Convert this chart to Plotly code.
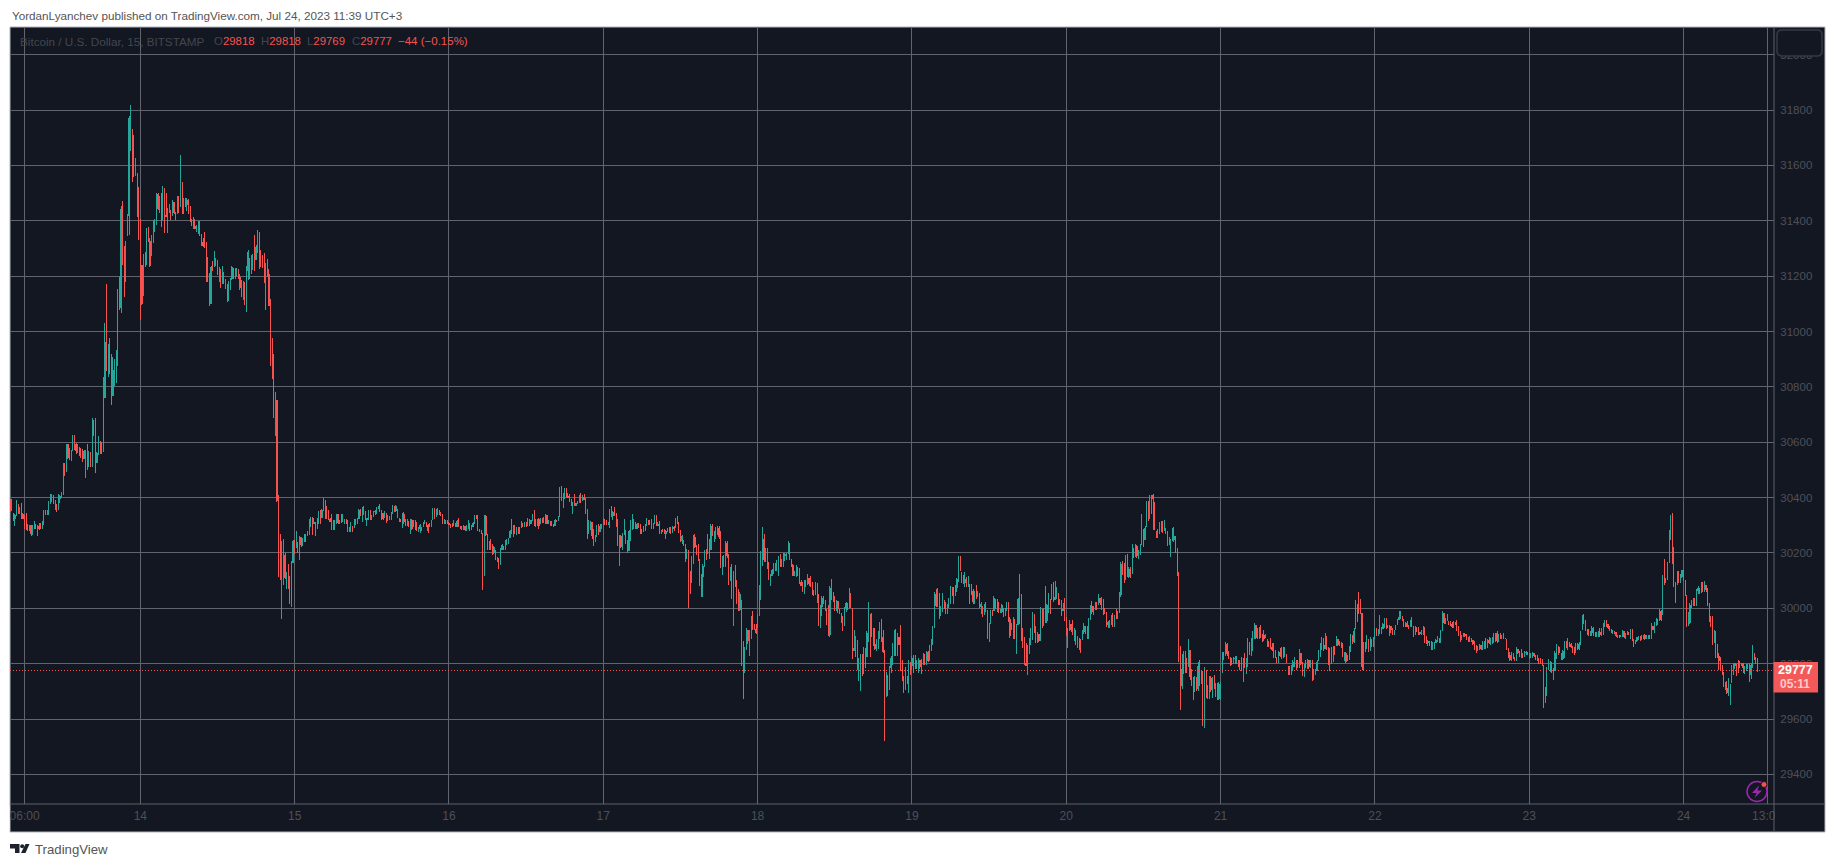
import pandas as pd
import plotly.graph_objects as go

WIDTH, HEIGHT = 1835, 867
PLOT_L, PLOT_R, PLOT_T, PLOT_B = 10, 1774, 27, 804

closes = [
30370,30358,30325,30335,30375,30350,30360,30340,30325,30300,
30285,30282,30298,30270,30285,30305,30290,30295,30290,30288,
30310,30352,30340,30354,30385,30405,30412,30385,30362,30352,
30395,30405,30415,30510,30480,30590,30545,30540,30570,30625,
30590,30570,30585,30555,30550,30535,30565,30570,30510,30540,
30515,30680,30625,30510,30560,30615,30565,30562,30760,30960,
30860,30880,30850,30770,30860,30880,30910,31130,31085,31440,
31245,31180,31310,31420,31770,31780,31700,31560,31620,31520,
31340,
31240,31100,31270,31240,31370,31325,31240,31340,31395,31400,
31495,31445,31480,31400,31510,31420,31415,31440,31450,31410,
31465,31430,31420,31485,31435,31500,31430,31480,31460,31475,
31430,31400,31385,31378,31372,31380,31395,31350,31320,31310,
31305,31240,31195,31100,31230,31222,31245,31262,31210,31225,
31170,31200,31175,31182,31115,31175,31190,31230,31195,31225,
31228,31195,31160,31130,31175,31105,31220,31285,31200,31270,
31275,31260,31305,31360,31290,31240,31232,31190,31240,31205,
31095,30880,30835,30700,30775,30390,30120,30105,30110,30190,
30110,30120,30075,30020,30165,30240,30200,30230,30205,30255,
30230,30250,30265,30245,30275,30320,30325,30290,30310,30305,
30295,30345,30320,30355,30395,30340,30330,30322,30315,30290,
30285,30312,30338,30310,30316,30312,30315,30320,30312,30282,
30290,30308,30280,30318,30320,30324,30352,30336,30360,30362,
30322,30325,30350,30322,30333,30348,30350,30362,30364,30352,
30345,30325,30345,30315,30320,30328,30344,30366,30352,30368,
30332,30316,30314,30340,30312,30300,30302,30296,30318,30290,
30312,30288,30285,30288,30298,30284,30305,30310,30300,30282,
30302,30312,30360,30328,30354,30358,30340,30340,30310,30318,
30312,30308,30302,30300,30298,30312,30295,30315,30296,30292,
30283,30296,30285,30295,30312,30284,30296,30308,30332,30326,
30285,30280,30274,30070,30330,30265,30218,30236,30215,30200,
30220,30180,30172,30145,30212,30228,30212,30240,30245,30250,
30278,30275,30295,30272,30288,30280,30288,30308,30295,30306,
30296,30322,30300,30316,30335,30305,30298,30320,30300,30322,
30312,30322,30335,30308,30312,30300,30302,30296,30318,30312,
30328,30430,30395,30412,30430,30405,30402,30388,30372,30378,
30372,30380,30383,30404,30386,30402,30392,30345,30270,30272,
30310,30262,30240,30260,30290,30270,30295,30302,30322,30310,
30305,30306,30350,30335,30345,30340,30300,30230,30258,30225,
30265,30316,30240,30205,30278,30312,30335,30295,30290,30304,
30300,30272,30270,30282,30300,30322,30303,30305,30290,30302,
30330,30300,30304,30272,30280,30278,30270,30278,30286,30276,
30272,30292,30290,30320,30310,30276,30245,30258,30240,30175,
30207,30100,30060,30180,30255,30225,30200,30178,30100,30115,
30150,30202,30180,30260,30185,30295,30268,30272,30285,30290,
30258,30155,30180,30186,30235,30190,30100,30140,30040,30125,
30085,30025,29995,30050,29800,29800,29850,29920,29885,29910,
29965,29930,29925,29912,29970,30075,30195,30250,30175,30210,
30150,30115,30120,30138,30160,30162,30168,30180,30155,30175,
30192,30195,30196,30236,30180,30155,30120,30128,30150,30130,
30095,30083,30065,30095,30098,30118,30090,30082,30052,30060,
30088,30025,29945,30005,30035,30020,29995,29950,29905,30070,
30035,30028,29995,30025,30000,29985,29955,29925,29998,30018,
30010,30062,30005,29830,29855,29895,29790,29800,29825,29765,
29850,29790,29910,30010,29970,29905,29870,29855,29880,29912,
29940,29895,29845,29640,29765,29690,29785,29820,29865,29915,
29835,29900,29870,29785,29750,29700,29780,29730,29805,29795,
29820,29790,29785,29795,29810,29790,29770,29832,29800,29840,
29812,29860,29880,29930,30050,30010,30060,29975,29980,30045,
30000,29985,30010,30030,30072,30050,30030,30075,30105,30180,
30140,30095,30092,30105,30080,30085,30080,30060,30025,30055,
30040,30046,30005,30015,29975,30008,29992,29895,29940,29985,
29978,30035,30028,29992,29986,29990,30010,29975,29992,30018,
29960,29900,29928,29962,29900,29935,30030,29950,29890,29862,
29800,29795,29860,29885,29920,29975,29915,29878,29905,29885,
30000,29938,29990,29955,30010,30050,29985,30080,30030,30040,
30070,30018,30028,29980,29995,29960,29905,29920,29950,29925,
29910,29920,29875,29895,29885,29848,29915,29935,29910,29930,
29955,30005,29990,29982,30018,29998,30045,30020,30030,29985,
29980,29940,29950,29955,29970,29940,29968,29965,29985,30050,
30160,30125,30100,30185,30115,30140,30115,30225,30185,30225,
30190,30205,30225,30330,30240,30290,30380,30325,30405,30408,
30395,30290,30255,30260,30275,30310,30280,30285,30285,30232,
30240,30245,30250,30260,30205,30125,29815,29720,29780,29835,
29840,29780,29880,29755,29730,29685,29745,29710,29790,29735,
29770,29640,29750,29690,29685,29745,29705,29745,29715,29720,
29675,29725,29730,29830,29820,29870,29835,29822,29815,29808,
29818,29820,29825,29805,29785,29780,29815,29790,29812,29880,
29838,29885,29912,29938,29895,29892,29925,29900,29900,29890,
29892,29880,29870,29860,29852,29825,29822,29815,29840,29830,
29850,29828,29835,29805,29765,29762,29790,29805,29815,29785,
29800,29845,29800,29765,29790,29785,29810,29790,29800,29745,
29772,29775,29805,29840,29865,29885,29855,29865,29850,29800,
29850,29805,29855,29840,29890,29868,29875,29860,29830,29835,
29808,29825,29855,29895,29880,29915,30020,30005,29990,29985,
29790,29870,29850,29895,29875,29885,29870,29890,29920,29905,
29910,29915,29925,29940,29955,29932,29936,29935,29925,29910,
29916,29932,29955,29965,29970,29958,29938,29945,29935,29930,
29950,29938,29905,29928,29920,29910,29912,29918,29930,29885,
29875,29880,29870,29855,29858,29870,29885,29895,29880,29915,
29980,29950,29958,29960,29945,29940,29935,29945,29940,29925,
29908,29890,29900,29905,29902,29890,29885,29895,29885,29872,
29855,29848,29860,29865,29855,29875,29878,29860,29885,29875,
29888,29892,29905,29908,29882,29900,29895,29898,29892,29890,
29855,29828,29815,29835,29822,29815,29850,29840,29840,29830,
29825,29840,29842,29835,29825,29832,29835,29828,29818,29815,
29805,29802,29795,29665,29710,29780,29785,29805,29770,29778,
29835,29860,29850,29842,29820,29845,29875,29860,29885,29870,
29862,29845,29838,29865,29855,29870,29905,29965,29955,29930,
29910,29908,29912,29928,29905,29902,29905,29912,29904,29925,
29942,29952,29940,29930,29922,29915,29918,29914,29900,29902,
29900,29903,29915,29898,29900,29908,29905,29920,29888,29880,
29883,29893,29895,29888,29895,29900,29890,29895,29898,29895,
29940,29925,29945,29958,29955,29990,29960,30110,30095,30105,
30160,30270,30320,30175,30095,30085,30125,30095,30115,30135,
30110,30050,29945,29950,30010,30025,30035,30015,30065,30072,
30060,30088,30070,30092,30068,30020,29960,29945,29880,29915,
29830,29825,29810,29775,29765,29725,29712,29695,29700,29720,
29785,29795,29800,29790,29780,29802,29800,29785,29790,29795,
29782,29760,29795,29840,29815,29818,29777,
]

highs = [
30392,30395,30342,30342,30390,30375,30366,30382,30345,30336,
30345,30306,30300,30300,30300,30314,30302,30302,30309,30309,
30314,30356,30356,30356,30388,30414,30414,30408,30390,30378,
30414,30411,30420,30525,30525,30595,30595,30580,30573,30627,
30627,30597,30593,30580,30579,30577,30573,30573,30593,30569,
30563,30689,30679,30689,30565,30621,30603,30601,30836,31032,
31173,30956,30976,30917,30908,30900,30932,31155,31198,31453,
31471,31308,31326,31426,31778,31818,31728,31710,31625,31571,
31523,
31408,31240,31280,31286,31375,31377,31336,31348,31402,31406,
31502,31502,31489,31502,31525,31517,31499,31447,31459,31438,
31475,31466,31429,31489,31489,31637,31539,31484,31483,31482,
31478,31453,31408,31414,31405,31384,31399,31399,31354,31338,
31358,31322,31270,31212,31237,31253,31290,31267,31258,31234,
31225,31236,31216,31189,31171,31183,31195,31236,31228,31231,
31231,31225,31207,31185,31183,31178,31236,31294,31264,31276,
31279,31348,31312,31366,31357,31296,31276,31285,31246,31261,
31225,31117,30976,30920,30781,30752,30408,30267,30242,30249,
30198,30131,30159,30116,30171,30246,30246,30278,30240,30260,
30255,30255,30270,30270,30280,30324,30329,30329,30328,30312,
30328,30351,30354,30360,30399,30390,30370,30354,30328,30342,
30318,30318,30342,30342,30320,30340,30339,30324,30324,30318,
30294,30312,30296,30324,30324,30328,30358,30360,30366,30369,
30348,30328,30354,30354,30336,30352,30354,30366,30368,30378,
30352,30342,30351,30342,30336,30332,30348,30372,30366,30372,
30357,30326,30324,30345,30348,30322,30322,30314,30324,30322,
30318,30320,30312,30294,30304,30292,30312,30320,30312,30306,
30308,30318,30364,30360,30358,30361,30354,30348,30340,30324,
30318,30318,30312,30304,30308,30318,30306,30320,30328,30296,
30296,30300,30298,30300,30318,30306,30300,30312,30336,30336,
30336,30288,30282,30272,30336,30336,30270,30242,30249,30234,
30224,30210,30186,30180,30219,30232,30224,30246,30250,30255,
30282,30322,30300,30300,30292,30292,30292,30314,30308,30312,
30312,30328,30320,30320,30340,30354,30324,30324,30328,30326,
30328,30330,30342,30336,30318,30314,30314,30306,30324,30320,
30332,30438,30441,30418,30436,30436,30418,30412,30394,30384,
30414,30382,30386,30408,30418,30408,30414,30400,30358,30318,
30316,30310,30288,30265,30300,30306,30306,30306,30326,30322,
30320,30310,30358,30369,30351,30366,30346,30324,30264,30264,
30273,30322,30282,30248,30284,30318,30340,30320,30312,30308,
30308,30306,30288,30296,30306,30328,30318,30320,30324,30308,
30336,30336,30312,30314,30284,30288,30288,30284,30290,30292,
30292,30296,30296,30326,30332,30312,30284,30264,30246,30231,
30213,30212,30134,30188,30264,30267,30228,30231,30177,30123,
30159,30210,30213,30270,30249,30306,30306,30278,30294,30296,
30296,30278,30188,30192,30242,30242,30195,30149,30161,30134,
30155,30101,30069,30059,30029,29881,29860,29930,29920,29920,
29972,29989,29944,29944,29978,30083,30206,30292,30270,30219,
30219,30167,30125,30143,30165,30165,30173,30188,30195,30179,
30198,30198,30201,30242,30234,30176,30161,30134,30155,30146,
30146,30103,30095,30103,30103,30123,30107,30116,30095,30067,
30095,30093,30051,30011,30043,30043,30031,29995,30011,30080,
30105,30059,30043,30031,30025,29995,29981,29972,30004,30024,
30020,30072,30052,30000,29922,29900,29882,29822,29835,29835,
29859,29855,29918,30022,29976,29982,29928,29930,29888,29918,
29949,29960,29922,29849,29771,29759,29792,29828,29873,29922,
29924,29910,29895,29940,29813,29755,29789,29753,29813,29804,
29829,29831,29831,29813,29819,29813,29817,29840,29835,29846,
29846,29867,29889,29936,30058,30070,30072,30054,30008,30057,
30027,30024,30016,30036,30081,30076,30076,30084,30111,30189,
30189,30130,30120,30130,30114,30118,30087,30087,30070,30063,
30084,30064,30054,30022,30008,30016,30022,29992,29948,29994,
29994,30045,30033,30033,30024,29998,30016,30000,30000,30024,
30024,29970,29948,29970,29960,29943,30039,30124,30052,29928,
29898,29873,29868,29892,29928,29986,29978,29936,29915,29904,
30006,29996,30002,30081,30016,30057,30033,30088,30094,30099,
30076,30054,30033,30028,30020,30036,29967,29928,29958,29940,
29958,29928,29922,29900,29892,29889,29922,29946,29936,29937,
29964,30012,30028,30008,30022,30024,30052,30036,30040,30034,
30000,29986,29955,29958,29976,29982,29976,29996,29992,30060,
30169,30171,30162,30193,30196,30148,30148,30233,30217,30233,
30229,30211,30233,30342,30286,30298,30388,30388,30410,30408,
30413,30383,30277,30285,30313,30316,30316,30319,30290,30279,
30258,30252,30290,30294,30259,30218,30132,29865,29835,29846,
29846,29817,29890,29846,29781,29751,29755,29751,29805,29813,
29775,29775,29789,29777,29723,29755,29757,29753,29759,29729,
29729,29733,29735,29843,29843,29880,29873,29846,29822,29822,
29825,29829,29829,29813,29813,29823,29822,29840,29819,29892,
29876,29892,29919,29946,29940,29928,29934,29940,29907,29922,
29906,29886,29880,29892,29873,29873,29849,29822,29846,29855,
29859,29861,29860,29834,29789,29790,29795,29813,29823,29813,
29813,29853,29837,29807,29800,29813,29817,29815,29813,29813,
29779,29782,29813,29849,29873,29895,29894,29910,29901,29862,
29858,29861,29864,29865,29900,29886,29883,29877,29873,29843,
29841,29830,29865,29907,29904,29928,30030,30012,30060,30035,
29982,29879,29877,29904,29886,29895,29890,29898,29928,29928,
29925,29976,29934,29946,29964,29964,29940,29940,29937,29928,
29922,29940,29961,29991,29990,29972,29958,29952,29955,29940,
29958,29968,29934,29936,29934,29931,29916,29922,29937,29934,
29900,29886,29880,29882,29880,29877,29889,29900,29892,29922,
29990,29980,29964,29980,29954,29954,29949,29954,29952,29958,
29936,29919,29904,29910,29912,29907,29898,29901,29892,29885,
29882,29867,29864,29871,29867,29883,29883,29892,29889,29898,
29894,29898,29910,29912,29918,29906,29910,29905,29910,29892,
29889,29853,29841,29841,29837,29825,29859,29852,29846,29852,
29837,29846,29846,29843,29838,29837,29841,29837,29831,29831,
29822,29822,29816,29795,29717,29789,29817,29810,29805,29783,
29846,29871,29865,29861,29837,29850,29882,29882,29892,29875,
29875,29861,29859,29873,29873,29880,29918,29976,29980,29958,
29925,29925,29918,29937,29931,29916,29915,29919,29928,29928,
29948,29958,29958,29945,29936,29925,29922,29918,29916,29905,
29904,29904,29922,29918,29910,29919,29915,29925,29925,29886,
29885,29898,29900,29900,29902,29905,29906,29905,29902,29903,
29946,29935,29952,29964,29961,29998,29995,30120,30177,30110,
30168,30283,30337,30343,30220,30096,30133,30135,30123,30139,
30139,30102,30048,29988,30018,30030,30039,30039,30070,30081,
30075,30094,30096,30099,30081,30075,30016,29972,29972,29922,
29916,29870,29837,29825,29795,29770,29735,29737,29749,29725,
29794,29804,29804,29798,29812,29810,29804,29804,29792,29798,
29798,29804,29804,29866,29837,29825,29818,
]

lows = [
30347,30350,30315,30297,30333,30342,30342,30324,30321,30288,
30282,30279,30282,30261,30266,30287,30287,30261,30282,30288,
30290,30302,30336,30336,30336,30375,30384,30378,30356,30348,
30358,30381,30400,30410,30477,30493,30541,30537,30532,30568,
30573,30559,30561,30549,30543,30529,30541,30471,30499,30513,
30511,30511,30621,30487,30525,30555,30559,30559,30565,30761,
30860,30834,30848,30736,30767,30803,30814,30875,31077,31067,
31241,31125,31179,31348,31348,31652,31541,31557,31565,31414,
31330,
31041,31095,31131,31234,31243,31322,31234,31276,31320,31358,
31384,31438,31429,31378,31405,31357,31414,31357,31429,31402,
31420,31426,31402,31426,31429,31450,31424,31426,31450,31436,
31424,31396,31382,31372,31370,31361,31354,31346,31310,31306,
31302,31180,31180,31093,31099,31218,31234,31237,31204,31177,
31158,31173,31171,31155,31107,31111,31149,31185,31191,31189,
31201,31190,31149,31123,31113,31095,31071,31185,31191,31209,
31222,31218,31261,31282,31225,31234,31228,31176,31077,31197,
31091,30875,30828,30688,30623,30384,30113,30101,29960,30083,
30105,30071,30071,30017,30005,30167,30195,30220,30200,30173,
30222,30224,30240,30240,30264,30264,30292,30264,30306,30260,
30285,30306,30306,30328,30354,30324,30324,30318,30312,30284,
30282,30282,30306,30306,30304,30308,30312,30304,30305,30276,
30276,30276,30276,30292,30300,30304,30324,30332,30312,30336,
30318,30296,30320,30318,30322,30330,30336,30342,30357,30348,
30320,30320,30327,30308,30316,30318,30318,30342,30348,30348,
30328,30312,30312,30290,30306,30296,30298,30292,30267,30284,
30296,30282,30280,30276,30273,30280,30294,30306,30294,30272,
30294,30294,30320,30324,30332,30336,30336,30334,30304,30306,
30304,30306,30300,30290,30294,30300,30292,30296,30292,30285,
30282,30284,30280,30280,30288,30280,30284,30294,30306,30324,
30280,30276,30270,30065,30119,30260,30212,30210,30210,30192,
30195,30174,30168,30141,30159,30210,30210,30210,30228,30232,
30255,30270,30258,30270,30264,30270,30270,30292,30292,30294,
30292,30300,30296,30306,30318,30298,30294,30296,30288,30306,
30308,30308,30306,30304,30304,30296,30296,30294,30300,30310,
30318,30332,30388,30363,30396,30400,30398,30384,30369,30340,
30369,30372,30376,30381,30382,30388,30390,30340,30249,30267,
30284,30252,30224,30240,30260,30264,30278,30285,30300,30302,
30300,30302,30290,30330,30320,30334,30294,30224,30152,30219,
30212,30264,30231,30198,30210,30243,30282,30288,30285,30290,
30290,30267,30267,30278,30278,30300,30300,30300,30285,30288,
30306,30296,30296,30267,30267,30276,30267,30252,30276,30273,
30270,30274,30278,30292,30306,30272,30240,30231,30224,30167,
30179,30000,30051,30092,30159,30219,30192,30171,30079,30041,
30041,30149,30173,30198,30177,30213,30261,30240,30249,30264,
30252,30146,30119,30149,30150,30183,30083,30101,30032,29936,
30077,30017,29990,29990,29791,29673,29766,29852,29872,29826,
29888,29920,29920,29908,29930,29975,30029,30153,30167,30167,
30143,30101,30079,30116,30125,30134,30134,30116,30149,30149,
30149,30170,30173,30198,30173,30149,30116,30115,30113,30115,
30089,30079,30059,30051,30077,30083,30079,30077,30047,30046,
30047,30019,29935,29929,29971,30017,29989,29939,29899,29897,
30029,30022,29989,29989,29983,29981,29948,29917,29937,29986,
29993,30000,30000,29817,29849,29825,29777,29737,29702,29757,
29763,29785,29825,29877,29825,29898,29865,29849,29847,29853,
29889,29877,29837,29520,29681,29683,29708,29767,29795,29829,
29829,29829,29867,29775,29737,29695,29708,29727,29695,29759,
29777,29765,29779,29779,29767,29779,29763,29798,29795,29795,
29807,29810,29846,29867,29930,30004,30004,29961,29973,29988,
29996,29980,29980,30000,30016,30045,30016,30048,30060,30096,
30135,30090,30088,30078,30076,30076,30016,30048,30016,30016,
30034,30042,30000,29980,29970,29976,29988,29888,29877,29946,
29973,29992,29996,29988,29982,29982,29982,29970,29975,29992,
29952,29894,29922,29889,29889,29835,29940,29943,29882,29858,
29795,29792,29759,29835,29867,29886,29910,29873,29877,29877,
29882,29930,29937,29948,29948,29982,29980,30033,30024,30030,
30033,30012,30012,29973,29992,29954,29900,29858,29918,29915,
29904,29882,29868,29855,29849,29840,29886,29907,29906,29889,
29889,29960,29978,29976,29994,29994,30012,30012,29994,29976,
29978,29933,29930,29930,29940,29933,29933,29961,29961,29984,
30042,30120,30093,30105,30112,30111,30111,30124,30181,30186,
30181,30178,30193,30230,30223,30248,30295,30316,30325,30341,
30283,30283,30253,30253,30271,30279,30273,30279,30270,30225,
30228,30186,30246,30240,30199,30117,29805,29632,29708,29763,
29767,29767,29790,29741,29720,29669,29700,29703,29703,29720,
29727,29575,29569,29675,29671,29671,29696,29677,29708,29680,
29669,29669,29669,29767,29815,29828,29827,29817,29792,29795,
29798,29798,29798,29789,29777,29775,29735,29783,29763,29789,
29831,29829,29846,29889,29888,29888,29892,29894,29877,29882,
29892,29861,29861,29852,29847,29820,29820,29804,29804,29825,
29816,29822,29825,29801,29759,29758,29759,29775,29787,29777,
29785,29783,29795,29755,29753,29783,29780,29780,29785,29738,
29740,29760,29772,29813,29825,29849,29846,29855,29850,29795,
29774,29798,29807,29830,29865,29865,29864,29855,29825,29810,
29804,29810,29813,29843,29870,29876,29928,29949,29980,29980,
29777,29777,29841,29855,29841,29844,29860,29861,29890,29900,
29899,29906,29906,29928,29928,29925,29928,29901,29910,29904,
29905,29925,29940,29960,29960,29955,29934,29934,29931,29925,
29934,29934,29898,29904,29916,29905,29905,29905,29905,29876,
29871,29865,29865,29849,29851,29853,29875,29880,29875,29875,
29919,29943,29943,29955,29940,29935,29928,29928,29938,29919,
29901,29880,29885,29895,29898,29885,29880,29878,29880,29867,
29849,29840,29845,29850,29850,29849,29853,29853,29858,29870,
29868,29872,29875,29878,29876,29880,29888,29888,29888,29888,
29849,29822,29811,29811,29817,29811,29810,29835,29825,29822,
29822,29825,29830,29830,29818,29819,29822,29823,29815,29810,
29799,29799,29792,29641,29657,29684,29777,29770,29765,29741,
29775,29817,29830,29837,29813,29815,29822,29855,29850,29860,
29855,29837,29831,29841,29850,29850,29871,29924,29942,29919,
29904,29900,29900,29900,29900,29898,29898,29898,29898,29900,
29905,29934,29932,29925,29918,29910,29908,29906,29895,29893,
29894,29895,29895,29893,29890,29905,29903,29890,29883,29861,
29870,29880,29885,29883,29885,29890,29885,29888,29888,29890,
29890,29920,29910,29935,29940,29955,29955,29976,30084,30090,
30102,30165,30247,30160,30078,30020,30084,30090,30095,30108,
30100,30045,29934,29936,29943,30000,30010,30010,30010,30050,
30050,30055,30060,30060,30060,30008,29949,29934,29867,29873,
29822,29820,29777,29773,29760,29717,29705,29689,29683,29649,
29731,29758,29782,29755,29767,29785,29790,29767,29764,29775,
29780,29734,29745,29786,29812,29798,29769,
]

n = min(len(closes), len(highs), len(lows))
closes, highs, lows = closes[:n], highs[:n], lows[:n]

# Each 15-minute candle opens on the previous close, held inside its own range.
opens = []
previous = 30392
for c, h, l in zip(closes, highs, lows):
    opens.append(min(max(previous, l), h))
    previous = c
opens[-1] = 29818
times = pd.date_range(end="2023-07-24 11:30", periods=n, freq="15min")

price_ticks = list(range(29400, 32001, 200))
time_ticks = ["2023-07-13 06:00"] + [f"2023-07-{d} 00:00" for d in range(14, 25)] + ["2023-07-24 13:00"]
time_labels = ["06:00"] + [str(d) for d in range(14, 25)] + ["13:00"]
last_price = 29777
countdown = "05:11"
legend_name = "Bitcoin / U.S. Dollar, 15, BITSTAMP"
legend_ohlc = [("O", "29818", 212), ("H", "29818", 259), ("L", "29769", 305), ("C", "29777", 350)]
legend_change = "−44 (−0.15%)"
byline = "YordanLyanchev published on TradingView.com, Jul 24, 2023 11:39 UTC+3"

BG = "#131722"
UP = "#26a69a"
DOWN = "#f7524f"
GRID = "#62646d"
AXIS_TEXT = "#4e5058"
BORDER = "#b2b5be"
FONT = "Liberation Sans"


def px(x):
    return (x - PLOT_L) / (PLOT_R - PLOT_L)


def py(y):
    return (PLOT_B - y) / (PLOT_B - PLOT_T)


def rect(x0, y0, x1, y1, **kw):
    return dict(type="rect", xref="paper", yref="paper", x0=px(x0), x1=px(x1), y0=py(y0), y1=py(y1), **kw)


def seg(x0, y0, x1, y1, color):
    return dict(type="line", xref="paper", yref="paper", x0=px(x0), x1=px(x1), y0=py(y0), y1=py(y1),
                line=dict(color=color, width=1), layer="above")


def outline(cmds, **kw):
    # Turns (command, x, y, ...) tuples given in page pixels into a paper-space path.
    parts = []
    for cmd in cmds:
        if cmd[0] == "Z":
            parts.append("Z")
            continue
        coords = cmd[1:]
        pairs = [f"{px(coords[i]):.5f},{py(coords[i + 1]):.5f}" for i in range(0, len(coords), 2)]
        parts.append(cmd[0] + " " + " ".join(pairs))
    return dict(type="path", xref="paper", yref="paper", path=" ".join(parts), **kw)


def label(text, x, y, size, color, anchor="left", family=FONT):
    return dict(text=text, xref="paper", yref="paper", x=px(x), y=py(y), xanchor=anchor, yanchor="middle",
                showarrow=False, font=dict(family=family, size=size, color=color))


fig = go.Figure(go.Candlestick(
    x=times, open=opens, high=highs, low=lows, close=closes,
    increasing=dict(line=dict(color=UP, width=1), fillcolor=UP),
    decreasing=dict(line=dict(color=DOWN, width=1), fillcolor=DOWN),
    whiskerwidth=0, showlegend=False, hoverinfo="skip",
))

rx, ry, rw, rh, rr = 1777, 30, 45, 26, 5
shapes = [
    rect(10, 27, 1825, 832, fillcolor=BG, line=dict(color=BORDER, width=1), layer="below"),
    dict(type="line", xref="paper", yref="y", x0=0, x1=1, y0=last_price, y1=last_price,
         line=dict(color=DOWN, width=1, dash="1px,2px"), layer="above"),
    # Covers what runs past the price axis on the time scale.
    rect(1775, 806, 1824, 831, fillcolor=BG, line=dict(width=0), layer="above"),
    rect(0, 806, 9.5, 831, fillcolor="#ffffff", line=dict(width=0), layer="above"),
    seg(1774, 27, 1774, 832, "#5d606b"),
    seg(10, 804, 1825, 804, "#5d606b"),
    rect(1773.5, 662, 1818, 692.5, fillcolor="#f4595a", line=dict(width=0), layer="above"),
    outline([("M", rx + rr, ry), ("L", rx + rw - rr, ry), ("Q", rx + rw, ry, rx + rw, ry + rr),
             ("L", rx + rw, ry + rh - rr), ("Q", rx + rw, ry + rh, rx + rw - rr, ry + rh),
             ("L", rx + rr, ry + rh), ("Q", rx, ry + rh, rx, ry + rh - rr),
             ("L", rx, ry + rr), ("Q", rx, ry, rx + rr, ry), ("Z",)],
            fillcolor=BG, line=dict(color="#363a45", width=1.5), layer="above"),
    # Ring, bolt and dot of the alert badge.
    dict(type="circle", xref="paper", yref="paper", x0=px(1747), x1=px(1767), y0=py(801.5), y1=py(781.5),
         line=dict(color="#9c27b0", width=1.5), layer="above"),
    outline([("M", 1759, 785.5), ("L", 1752, 793), ("L", 1756.5, 793), ("L", 1754.5, 798), ("L", 1762, 790.5),
             ("L", 1757.5, 790.5), ("Z",)], fillcolor="#9c27b0", line=dict(width=0), layer="above"),
    dict(type="circle", xref="paper", yref="paper", x0=px(1761), x1=px(1767), y0=py(787.5), y1=py(781.5),
         fillcolor="#ef5350", line=dict(color=BG, width=1), layer="above"),
    # TradingView mark.
    outline([("M", 10, 844), ("L", 19.5, 844), ("L", 19.5, 853), ("L", 15, 853), ("L", 15, 848.5), ("L", 10, 848.5), ("Z",)],
            fillcolor="#1e222d", line=dict(width=0), layer="above"),
    dict(type="circle", xref="paper", yref="paper", x0=px(20.2), x1=px(24.2), y0=py(848.2), y1=py(844.2),
         fillcolor="#1e222d", line=dict(width=0), layer="above"),
    outline([("M", 25.5, 844), ("L", 29.5, 844), ("L", 25.5, 853), ("L", 21, 853), ("Z",)],
            fillcolor="#1e222d", line=dict(width=0), layer="above"),
]

annotations = [
    label(byline, 10, 15, 11.7, "#555555"),
    label(legend_name, 18, 41, 11.7, "#43464e"),
    label(legend_change, 396, 41, 11.5, DOWN),
    label(f"<b>{last_price}</b>", 1795.5, 670, 12.5, "#ffffff", "center"),
    label(f"<b>{countdown}</b>", 1795.5, 684, 12, "#fdc9c9", "center"),
    label("TradingView", 32.5, 849, 13.2, "#555555"),
]
for tag, value, x in legend_ohlc:
    annotations.append(label(f'<span style="color:#43464e">{tag}</span>{value}', x, 41, 11.4, DOWN))

fig.update_layout(
    width=WIDTH, height=HEIGHT,
    margin=dict(l=PLOT_L, r=WIDTH - PLOT_R, t=PLOT_T, b=HEIGHT - PLOT_B),
    paper_bgcolor="#ffffff", plot_bgcolor=BG,
    boxgap=0.85,
    shapes=shapes, annotations=annotations,
    font=dict(family=FONT, color=AXIS_TEXT, size=12),
    xaxis=dict(range=["2023-07-13 03:44", "2023-07-24 14:04"], rangeslider=dict(visible=False),
               tickmode="array", tickvals=time_ticks, ticktext=time_labels, showgrid=True, gridcolor=GRID,
               gridwidth=1, ticks="outside", ticklen=1, tickcolor="rgba(0,0,0,0)", zeroline=False,
               tickfont=dict(family=FONT, size=12, color=AXIS_TEXT)),
    yaxis=dict(range=[29293, 32100], side="right", tickmode="array", tickvals=price_ticks,
               ticktext=[str(v) for v in price_ticks], showgrid=True, gridcolor=GRID, gridwidth=1,
               ticks="outside", ticklen=3, tickcolor="rgba(0,0,0,0)", zeroline=False,
               tickfont=dict(family=FONT, size=11.5, color=AXIS_TEXT)),
)

# Pixel-snapped candles keep neighbouring 1.6 px bars apart instead of blending them.
crisp_candles = """
document.querySelectorAll('.boxlayer path').forEach(function (p) {
    p.style.shapeRendering = 'crispEdges';
});
document.querySelectorAll('.shapelayer path').forEach(function (p) {
    if (p.style.strokeDasharray) { p.style.shapeRendering = 'crispEdges'; }
});
"""
fig.write_html("out.html", post_script=crisp_candles)
